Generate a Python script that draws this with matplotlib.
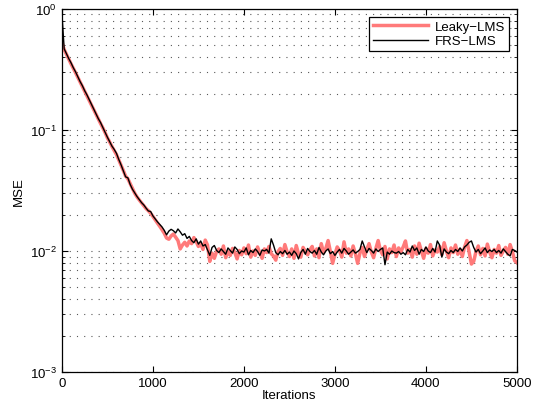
import numpy as np
import matplotlib
matplotlib.use("Agg")
import matplotlib.pyplot as plt

plt.rcParams['font.family'] = ['Liberation Sans', 'DejaVu Sans']
plt.rcParams['mathtext.fontset'] = 'custom'
plt.rcParams['mathtext.rm'] = 'Liberation Sans'
plt.rcParams['mathtext.it'] = 'Liberation Sans'

# sample grid (every 25 iterations)
iterations = np.arange(0, 5001, 25)

# values
mse_leaky = [
    0.53, 0.462, 0.422, 0.386, 0.352, 0.324, 0.297, 0.272, 0.249, 0.228,
    0.209, 0.192, 0.176, 0.160, 0.147, 0.134, 0.123, 0.113, 0.104, 0.0950,
    0.0860, 0.0795, 0.0730, 0.0675, 0.0625, 0.0565, 0.0512, 0.0462, 0.0415, 0.0395,
    0.0360, 0.0328, 0.0300, 0.0280, 0.0264, 0.0250, 0.0236, 0.0224, 0.0215, 0.0205,
    0.0193, 0.0181, 0.0170, 0.0160, 0.0150, 0.0140, 0.0128, 0.0125, 0.0133, 0.0138,
    0.0130, 0.0122, 0.0104, 0.0112, 0.0118, 0.0110, 0.0121, 0.0115, 0.0129, 0.0120,
    0.0109, 0.0115, 0.0103, 0.0123, 0.0112, 0.0082, 0.0096, 0.0087, 0.0099, 0.0104,
    0.0094, 0.0110, 0.0088, 0.0099, 0.0092, 0.0105, 0.0097, 0.0086, 0.0101, 0.0093,
    0.0106, 0.0095, 0.0112, 0.0089, 0.0100, 0.0092, 0.0108, 0.0096, 0.0087, 0.0104,
    0.0097, 0.0109, 0.0095, 0.0091, 0.0084, 0.0099, 0.0105, 0.0092, 0.0113, 0.0098,
    0.0090, 0.0104, 0.0087, 0.0111, 0.0095, 0.0089, 0.0107, 0.0099, 0.0093, 0.0102,
    0.0109, 0.0091, 0.0104, 0.0088, 0.0115, 0.0097, 0.0105, 0.0122, 0.0099, 0.0079,
    0.0094, 0.0108, 0.0101, 0.0089, 0.0119, 0.0096, 0.0104, 0.0091, 0.0110, 0.0095,
    0.0079, 0.0096, 0.0107, 0.0090, 0.0103, 0.0115, 0.0098, 0.0088, 0.0105, 0.0122,
    0.0101, 0.0093, 0.0109, 0.0086, 0.0104, 0.0097, 0.0112, 0.0090, 0.0106, 0.0099,
    0.0108, 0.0121, 0.0096, 0.0103, 0.0089, 0.0110, 0.0094, 0.0116, 0.0100, 0.0087,
    0.0105, 0.0096, 0.0113, 0.0091, 0.0102, 0.0098, 0.0109, 0.0093, 0.0117, 0.0100,
    0.0088, 0.0106, 0.0097, 0.0112, 0.0094, 0.0103, 0.0090, 0.0108, 0.0122, 0.0097,
    0.0078, 0.0082, 0.0099, 0.0110, 0.0093, 0.0105, 0.0091, 0.0114, 0.0098, 0.0088,
    0.0103, 0.0096, 0.0111, 0.0092, 0.0100, 0.0107, 0.0094, 0.0113, 0.0099, 0.0083,
    0.0080,
]

mse_frs = [
    0.92, 0.468, 0.427, 0.389, 0.359, 0.327, 0.302, 0.275, 0.251, 0.232,
    0.211, 0.195, 0.178, 0.162, 0.148, 0.136, 0.124, 0.115, 0.105, 0.0955,
    0.0871, 0.0800, 0.0735, 0.0690, 0.0640, 0.0570, 0.0515, 0.0460, 0.0410, 0.0402,
    0.0355, 0.0324, 0.0302, 0.0282, 0.0266, 0.0251, 0.0240, 0.0226, 0.0214, 0.0212,
    0.0195, 0.0184, 0.0174, 0.0166, 0.0158, 0.0148, 0.0136, 0.0146, 0.0151, 0.0147,
    0.0141, 0.0152, 0.0144, 0.0135, 0.0139, 0.0127, 0.0132, 0.0122, 0.0117, 0.0126,
    0.0114, 0.0121, 0.0110, 0.0113, 0.0102, 0.0092, 0.0107, 0.0111, 0.0101, 0.0097,
    0.0104, 0.0099, 0.0094, 0.0106, 0.0101, 0.0096, 0.0108, 0.0103, 0.0095, 0.0100,
    0.0098, 0.0106, 0.0093, 0.0101, 0.0097, 0.0104, 0.0099, 0.0092, 0.0102, 0.0100,
    0.0103, 0.0096, 0.0126, 0.0112, 0.0097, 0.0093, 0.0099, 0.0095, 0.0101, 0.0094,
    0.0098, 0.0092, 0.0100, 0.0095, 0.0086, 0.0097, 0.0103, 0.0094, 0.0105, 0.0099,
    0.0096, 0.0101, 0.0094, 0.0107, 0.0098, 0.0093, 0.0100, 0.0104, 0.0095, 0.0099,
    0.0092, 0.0098, 0.0103, 0.0096, 0.0105, 0.0100, 0.0094, 0.0098, 0.0102, 0.0096,
    0.0099, 0.0103, 0.0121, 0.0108, 0.0097, 0.0105, 0.0101, 0.0096, 0.0104, 0.0099,
    0.0103, 0.0106, 0.0077, 0.0098, 0.0094, 0.0100, 0.0097, 0.0096, 0.0099, 0.0094,
    0.0097, 0.0093, 0.0103, 0.0098, 0.0110, 0.0101, 0.0106, 0.0094, 0.0103, 0.0099,
    0.0108, 0.0100, 0.0097, 0.0105, 0.0098, 0.0121, 0.0112, 0.0089, 0.0104, 0.0098,
    0.0095, 0.0101, 0.0097, 0.0103, 0.0099, 0.0106, 0.0100, 0.0108, 0.0112, 0.0118,
    0.0121, 0.0107, 0.0098, 0.0103, 0.0095, 0.0100, 0.0106, 0.0097, 0.0102, 0.0099,
    0.0103, 0.0097, 0.0101, 0.0096, 0.0104, 0.0099, 0.0094, 0.0091, 0.0103, 0.0101,
    0.0098,
]

x_ticks = [0, 1000, 2000, 3000, 4000, 5000]

fig = plt.figure(figsize=(5.43, 4.14), dpi=100)
ax = fig.add_axes([0.114, 0.099, 0.838, 0.877])

ax.semilogy(iterations, mse_leaky, color=(1.0, 0.48, 0.48), lw=2.5, label='Leaky\u2212LMS')
ax.semilogy(iterations, mse_frs, color='black', lw=1.0, label='FRS\u2212LMS')

ax.set_xlim(0, 5000)
ax.set_ylim(1e-3, 1e0)
ax.set_xticks(x_ticks)
ax.set_xlabel('Iterations', fontsize=9.5, labelpad=0)
ax.set_ylabel('MSE', fontsize=9.5, labelpad=4)

# matlab-ish grid: dotted, horizontal lines only
ax.yaxis.grid(True, which='both', color='0.35', linestyle=(0, (1, 5.5)), lw=0.8)
ax.tick_params(which='both', direction='in', top=True, right=True, labelsize=9.5)
ax.tick_params(which='major', length=4)
ax.tick_params(which='minor', length=2)
for s in ax.spines.values():
    s.set_linewidth(0.9)

leg = ax.legend(loc='upper right', fontsize=9.5, fancybox=False, framealpha=1,
                edgecolor='black', borderpad=0.3, handlelength=4.2, borderaxespad=0.6,
                labelspacing=0.15, handletextpad=0.5)
leg.get_frame().set_linewidth(0.9)

fig.savefig('out.png', dpi=100)
